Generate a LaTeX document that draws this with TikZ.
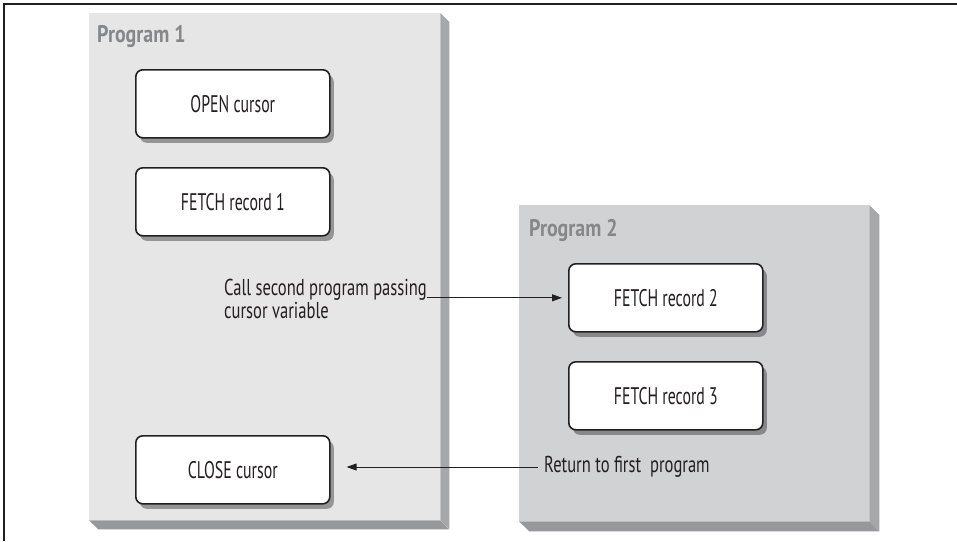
\documentclass[tikz,border=0pt]{standalone}
\usepackage{fontspec}
\setmainfont[FakeStretch=0.66]{PT Sans}
\newfontfamily\notefont[FakeStretch=0.72]{PT Sans}
\newfontfamily\labfont[FakeStretch=0.83]{PT Sans}
\usetikzlibrary{shadows,arrows.meta,positioning}
\definecolor{ink}{HTML}{231F20}
\definecolor{faceA}{HTML}{E6E6E6}
\definecolor{faceB}{HTML}{D1D2D4}
\definecolor{sideC}{HTML}{A6A7A9}
\definecolor{botC}{HTML}{97989A}
\definecolor{labC}{HTML}{86878A}
\tikzset{
  prog/.style={draw=none, anchor=north west, inner sep=0pt},
  stepbox/.style={draw=ink, line width=1.6pt, rounded corners=7pt, fill=white,
    minimum width=194pt, minimum height=68pt, inner sep=0pt, anchor=north west,
    font=\fontsize{24}{26}\selectfont, text=ink,
    drop shadow={shadow xshift=4pt, shadow yshift=-5pt, fill=black, opacity=0.35}},
  plabel/.style={anchor=west, inner sep=0pt, font=\labfont\fontsize{24}{26}\selectfont\bfseries, text=labC},
  note/.style={inner sep=0pt, font=\notefont\fontsize{23}{20.5}\selectfont, text=ink, align=left},
  conn/.style={draw=ink, line width=0.9pt, -{Triangle[length=10pt,width=7pt]}}
}
\begin{document}
\begin{tikzpicture}[x=1pt,y=-1pt]
\useasboundingbox (0,0) rectangle (957,541);
\fill[white] (0,0) rectangle (957,541);
% frame lines
\draw[ink, line width=1.2pt] (4,541) -- (4,4) -- (957,4);
% Program 1
\node[prog, fill=faceA, minimum width=351pt, minimum height=507pt] (p1) at (89,13) {};
\fill[sideC] (p1.north east) -- ++(9,9) -- ++(0,507) -- (p1.south east) -- cycle;
\fill[botC] (p1.south west) -- (p1.south east) -- ++(9,9) -- ++(-351,0) -- cycle;
\node[plabel] (l1) at (97,36) {Program 1};
% Program 2
\node[prog, fill=faceB, minimum width=350pt, minimum height=316pt] (p2) at (519,205) {};
\fill[sideC] (p2.north east) -- ++(10,10) -- ++(0,316) -- (p2.south east) -- cycle;
\fill[botC] (p2.south west) -- (p2.south east) -- ++(10,10) -- ++(-350,0) -- cycle;
\node[plabel] (l2) at (529,230) {Program 2};
% boxes
\node[stepbox] (open) at (135,69) {OPEN cursor};
\node[stepbox] (f1) at (135,167) {FETCH record 1};
\node[stepbox] (f2) at (568,263) {FETCH record 2};
\node[stepbox] (f3) at (568,361) {FETCH record 3};
\node[stepbox] (close) at (135,435) {CLOSE cursor};
% notes
\node[note, anchor=east] (call) at (427,299) {Call second program passing\\cursor variable};
\node[note, anchor=west] (ret) at (544,467) {Return to first\ \ program};
% connectors
\draw[conn, shorten >=6pt] (call.east |- f2.west) -- (f2.west);
\draw[conn, shorten >=16pt, shorten <=6pt] (ret.west) -- (ret.west -| close.east);
\end{tikzpicture}
\end{document}
